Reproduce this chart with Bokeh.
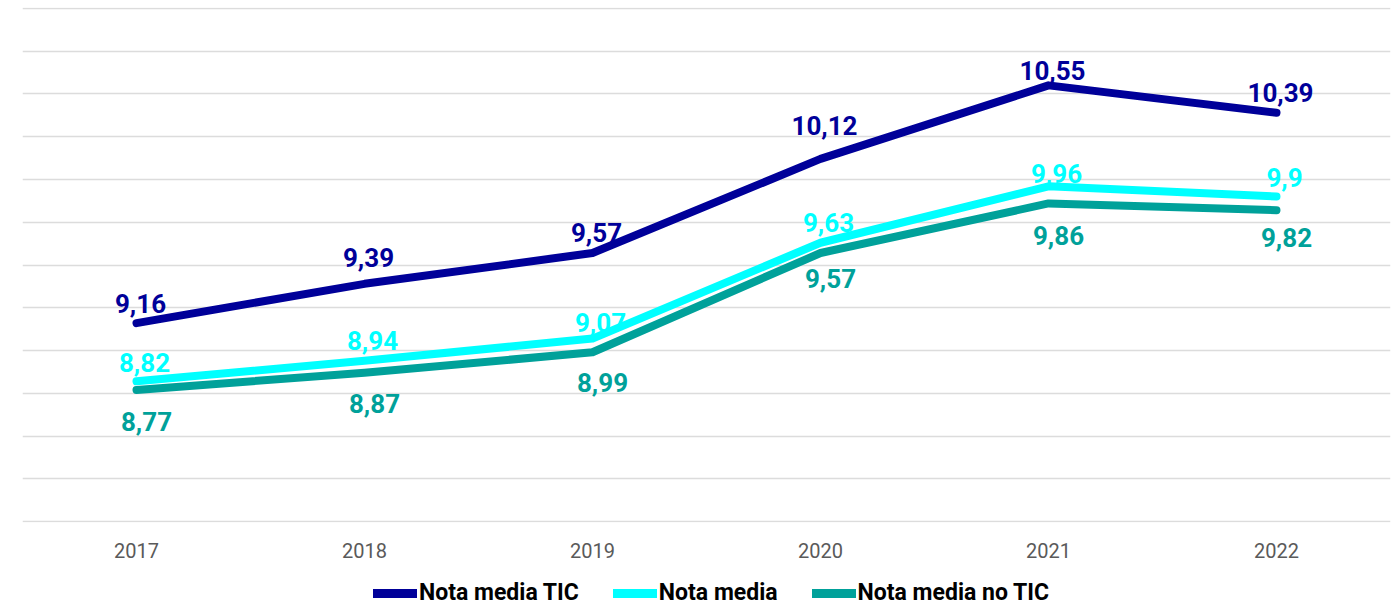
from bokeh.plotting import figure
from bokeh.layouts import column
from bokeh.models import ColumnDataSource, Legend, LegendItem, FixedTicker, Range1d
from bokeh.core.properties import value
from bokeh.embed import file_html
from bokeh.resources import INLINE

years = ["2017", "2018", "2019", "2020", "2021", "2022"]
nota_tic = [9.16, 9.39, 9.57, 10.12, 10.55, 10.39]
nota_media = [8.82, 8.94, 9.07, 9.63, 9.96, 9.90]
nota_no_tic = [8.77, 8.87, 8.99, 9.57, 9.86, 9.82]
series_names = ["Nota media TIC", "Nota media", "Nota media no TIC"]
colors = ["#000099", "#00FFFF", "#00A19A"]
grid_values = [8 + 0.25 * i for i in range(13)]

# label placement (screen px offsets), per series / per point
label_dy = [
    [-20, -26, -21, -33, -15, -20],
    [-19, -20, -16, -20, -13, -19],
    [32, 31, 30, 25, 32, 27],
]
label_dx = [4, 8, 10]

def fmt(v):
    s = ("%.2f" % v).rstrip("0").rstrip(".")
    return s.replace(".", ",")

p = figure(x_range=years, y_range=Range1d(7.995, 11.005), width=1392, height=574,
           output_backend="svg", toolbar_location=None,
           min_border_left=22, min_border_right=2, min_border_top=7,
           min_border_bottom=52)
p.outline_line_color = None
p.background_fill_color = "white"
p.border_fill_color = "white"

p.yaxis.visible = False
p.ygrid.ticker = FixedTicker(ticks=grid_values)
p.ygrid.grid_line_color = "#dcdcdc"
p.ygrid.grid_line_width = 1.5
p.xgrid.grid_line_color = None

p.xaxis.axis_line_color = None
p.xaxis.major_tick_line_color = None
p.xaxis.minor_tick_line_color = None
p.xaxis.major_tick_out = 0
p.xaxis.major_label_standoff = 20
p.xaxis.major_label_text_font = "Roboto"
p.xaxis.major_label_text_font_size = "20px"
p.xaxis.major_label_text_color = "#5a5a5a"
p.x_range.range_padding = 0

all_series = [nota_tic, nota_media, nota_no_tic]

for vals, col in zip(all_series, colors):
    src = ColumnDataSource(dict(x=years, y=vals))
    p.line("x", "y", source=src, line_color=col, line_width=8,
           line_cap="round", line_join="round")

for vals, col, dy, dx in zip(all_series, colors, label_dy, label_dx):
    src = ColumnDataSource(dict(x=years, y=vals, lbl=[fmt(v) for v in vals], dy=dy))
    p.text("x", "y", text="lbl", source=src, text_color=col,
           text_font=value("Roboto"), text_font_style="bold",
           text_font_size="26px", text_align="center", text_baseline="middle",
           y_offset="dy", x_offset=dx)

# legend strip below the chart (series drawn off-screen, only legend shows)
lg = figure(width=1392, height=32, output_backend="svg", toolbar_location=None,
            x_axis_location=None, y_axis_location=None,
            min_border_left=0, min_border_right=0, min_border_top=0, min_border_bottom=0,
            x_range=Range1d(0, 1), y_range=Range1d(0, 1))
lg.outline_line_color = None
lg.grid.visible = False
items = []
for name, vals, col in zip(series_names, all_series, colors):
    r = lg.line(x=list(range(len(vals))), y=vals, line_color=col, line_width=9,
                line_cap="round")
    items.append(LegendItem(label=name, renderers=[r]))
legend = Legend(items=items, orientation="horizontal", location=(351, 0),
                border_line_color=None, background_fill_alpha=0,
                padding=0, margin=0, spacing=34, label_standoff=2,
                glyph_width=44, glyph_height=22,
                label_text_font="Roboto", label_text_font_style="bold",
                label_text_font_size="23px", label_text_color="black")
lg.add_layout(legend, "center")

open("out.html", "w").write(file_html(column(p, lg), INLINE))
